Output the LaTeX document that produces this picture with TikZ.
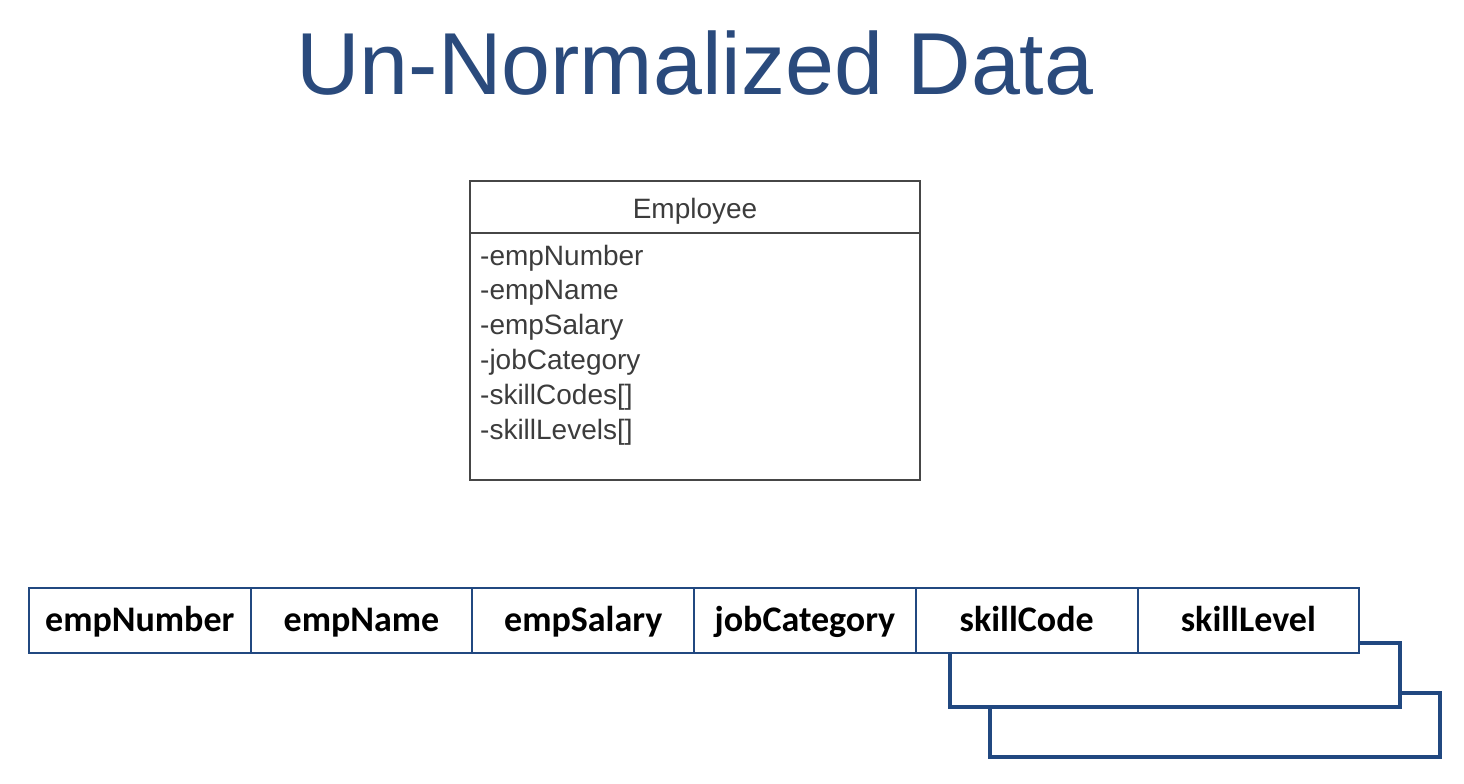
\documentclass[tikz,border=0pt]{standalone}
\usepackage{fontspec}
\setmainfont{Liberation Sans}
\newfontfamily\tablefont{Carlito}
\usetikzlibrary{positioning}
\definecolor{titleblue}{RGB}{42,74,124}
\definecolor{rowblue}{RGB}{33,72,128}
\definecolor{umlgray}{RGB}{70,70,70}
\definecolor{umltext}{RGB}{60,60,60}
\tikzset{
  titletext/.style={font=\fontsize{88}{92}\selectfont, color=titleblue, anchor=base},
  umlbox/.style={rectangle, draw=umlgray, line width=2pt, inner sep=0pt, outer sep=0pt},
  umlattr/.style={font=\fontsize{28}{30}\selectfont, color=umltext, anchor=base west, inner sep=0pt},
  colcell/.style={rectangle, draw=rowblue, fill=white, line width=2pt,
    minimum width=221.7pt, minimum height=65pt, inner sep=0pt, outer sep=0pt,
    text height=28pt, text depth=7pt,
    font=\tablefont\bfseries\fontsize{36}{38}\selectfont},
  stackbox/.style={rectangle, draw=rowblue, fill=white, line width=4pt,
    minimum width=450pt, minimum height=64pt, inner sep=0pt, outer sep=0pt, anchor=north west}
}
\begin{document}
\begin{tikzpicture}[x=1pt,y=-1pt]
  \useasboundingbox (0,0) rectangle (1464,784);
  % Title
  \node[titletext] (title) at (695,95) {Un-Normalized Data};
  % UML class
  \node[umlbox, minimum width=450pt, minimum height=299pt, anchor=north west] (employee) at (470,181) {};
  \coordinate (divl) at (470,233);
  \coordinate (divr) at (920,233);
  \draw[umlgray, line width=2pt] (divl) -- (divr);
  \node[umlattr, anchor=base] (classname) at (695,218) {Employee};
  \foreach \attr [count=\i from 0] in {-empNumber,-empName,-empSalary,-jobCategory,-skillCodes[],-skillLevels[]}
    \node[umlattr] (attr\i) at (480,265+34.8*\i) {\attr};
  % repeating group
  \node[stackbox] (stackB) at (990,693) {};
  \node[stackbox] (stackA) at (950,643) {};
  % record
  \node[colcell, anchor=north west] (empNumber) at (29,588) {empNumber};
  \node[colcell, right=0pt of empNumber] (empName) {empName};
  \node[colcell, right=0pt of empName] (empSalary) {empSalary};
  \node[colcell, right=0pt of empSalary] (jobCategory) {jobCategory};
  \node[colcell, right=0pt of jobCategory] (skillCode) {skillCode};
  \node[colcell, right=0pt of skillCode] (skillLevel) {skillLevel};
\end{tikzpicture}
\end{document}
